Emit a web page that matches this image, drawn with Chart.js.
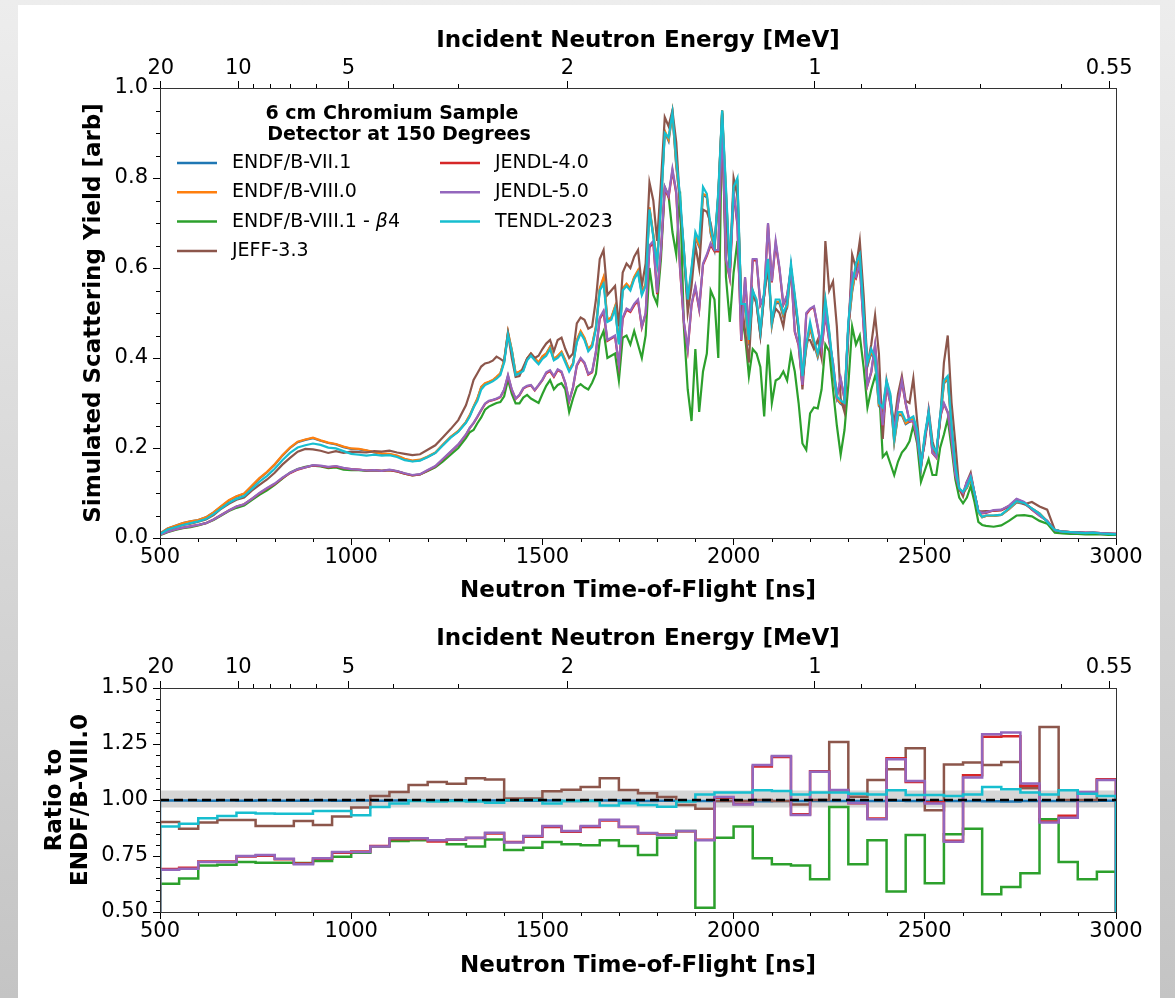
<!DOCTYPE html>
<html>
<head>
<meta charset="utf-8">
<script src="https://cdn.jsdelivr.net/npm/chart.js@4.4.1/dist/chart.umd.min.js"></script>
<style>
  html, body { margin: 0; padding: 0; }
  body { width: 1175px; height: 998px; position: relative; overflow: hidden;
         background: linear-gradient(to bottom, #ededed, #c4c4c4); }
  #panel { position: absolute; left: 18px; top: 5px; width: 1142px; height: 993px; background: #fff; }
  #topChart { position: absolute; left: 0; top: 0; width: 1175px; height: 610px; }
  #ratioChart { position: absolute; left: 0; top: 610px; width: 1175px; height: 388px; }
</style>
</head>
<body>
<div id="panel"></div>
<canvas id="topChart" width="1175" height="610"></canvas>
<canvas id="ratioChart" width="1175" height="388"></canvas>
<script>
const FONT = "'DejaVu Sans', sans-serif";

// top axis: incident neutron energy [MeV]
const energyMajor = [20, 10, 5, 2, 1, 0.55];
const energyMinor = [9, 8, 7, 6, 4, 3, 0.9, 0.8, 0.7, 0.6];

// minor ticks of the other axes
const tofMinor = [600, 700, 800, 900, 1100, 1200, 1300, 1400, 1600, 1700, 1800, 1900,
                  2100, 2200, 2300, 2400, 2600, 2700, 2800, 2900];
const yieldMinor = [0.05, 0.1, 0.15, 0.25, 0.3, 0.35, 0.45, 0.5, 0.55, 0.65, 0.7, 0.75, 0.85, 0.9, 0.95];
const ratioMinor = [0.55, 0.6, 0.65, 0.7, 0.8, 0.85, 0.9, 0.95, 1.05, 1.1, 1.15, 1.2, 1.3, 1.35, 1.4, 1.45];

// flight time for a neutron energy (relativistic), L/c in ns
const L_OVER_C = 102.0;
function tofFromEnergy(e) {
  const g = 1 + e / 939.565;
  return L_OVER_C / Math.sqrt(1 - 1 / (g * g));
}

function range(a, b, step) {
  const out = [];
  for (let v = a; v <= b + 1e-9; v += step) out.push(Math.round(v));
  return out;
}

// time-of-flight grid of the yield curves [ns]
const tof = [...range(500, 1300, 20), ...range(1310, 2660, 10), ...range(2680, 3000, 20)];

// simulated scattering yield [arb]
const yieldB7 = [
  .010,.021,.027,.033,.037,.040,.046,.057,.070,.083, .092,.098,.115,.132,.146,.163,.183,.200,.213,.218,
  .222,.216,.211,.208,.202,.198,.197,.194,.190,.187, .186,.182,.175,.171,.173,.180,.189,.207,.224,.237, .257,
  .272,.291,.309,.335,.343,.346,.350,.357,.365,.394, .456,.417,.365,.369,.374,.398,.409,.399,.389,.403,
  .409,.424,.397,.404,.413,.394,.373,.387,.438,.458, .443,.418,.428,.468,.552,.577,.483,.488,.513,.433,
  .553,.563,.553,.578,.593,.543,.563,.732,.672,.612, .742,.902,.882,.943,.827,.747,.632,.522,.592,.667,
  .647,.762,.757,.677,.642,.762,.943,.767,.592,.772, .787,.512,.512,.428,.542,.522,.452,.542,.612,.472,
  .522,.522,.492,.512,.597,.532,.462,.352,.422,.467, .432,.402,.437,.522,.452,.372,.308,.298,.293,.467,
  .547,.597,.617,.492,.382,.412,.392,.293,.283,.343, .313,.213,.273,.273,.253,.258,.263,.233,.156,.223,
  .273,.198,.185,.263,.343,.353,.243,.156,.107,.100, .111,.131,.097,.057,.046,.049,
  .049,.051,.064,.079,.076,.065,.054,.037,.018,.014,.013,.012,.011,.011,.010,.009,.008
];
const yieldB80 = [
  .010,.021,.027,.033,.037,.040,.046,.057,.071,.084, .093,.099,.116,.133,.147,.164,.184,.201,.214,.219,
  .223,.217,.212,.209,.203,.199,.198,.195,.191,.188, .187,.183,.176,.172,.174,.181,.190,.208,.225,.238, .258,
  .273,.292,.310,.336,.344,.347,.351,.358,.366,.395, .458,.418,.366,.370,.375,.399,.410,.400,.390,.404,
  .410,.425,.398,.405,.414,.395,.374,.388,.440,.460, .445,.420,.430,.470,.555,.580,.485,.490,.515,.435,
  .555,.565,.555,.580,.595,.545,.565,.735,.675,.615, .745,.905,.885,.945,.830,.750,.635,.525,.595,.670,
  .650,.765,.760,.680,.645,.765,.945,.770,.595,.775, .790,.515,.515,.430,.545,.525,.455,.545,.615,.475,
  .525,.525,.495,.515,.600,.535,.465,.355,.425,.470, .435,.405,.440,.525,.455,.375,.310,.300,.295,.470,
  .550,.600,.620,.495,.385,.415,.395,.295,.285,.345, .315,.215,.275,.275,.255,.260,.265,.235,.157,.225,
  .275,.200,.186,.265,.345,.355,.245,.157,.108,.101, .112,.132,.098,.057,.046,.049,
  .049,.051,.064,.080,.077,.066,.055,.037,.018,.014,.013,.012,.011,.011,.010,.009,.008
];
const yieldB81 = [
  .006,.013,.018,.022,.024,.028,.033,.040,.050,.060, .067,.072,.084,.096,.106,.118,.132,.145,.153,.158,
  .161,.159,.155,.157,.152,.151,.151,.149,.150,.149, .151,.148,.143,.139,.141,.149,.157,.170,.185,.200, .222,
  .235,.240,.255,.268,.285,.292,.296,.300,.302,.315, .352,.320,.299,.299,.312,.318,.310,.305,.300,.320,
  .338,.351,.330,.340,.344,.330,.280,.310,.335,.342, .335,.330,.345,.365,.440,.460,.400,.405,.410,.350,
  .445,.450,.430,.460,.430,.400,.450,.600,.540,.520, .620,.780,.760,.680,.630,.770,.470,.330,.260,.420,
  .280,.370,.410,.550,.530,.400,.950,.580,.480,.590, .660,.500,.450,.360,.420,.410,.380,.270,.430,.300,
  .350,.355,.370,.350,.410,.370,.300,.210,.196,.277, .290,.288,.330,.430,.415,.330,.250,.185,.240,.340,
  .470,.430,.450,.380,.290,.330,.360,.340,.180,.190, .165,.140,.170,.190,.200,.215,.250,.210,.125,.150,
  .175,.140,.140,.200,.230,.265,.200,.130,.090,.077, .090,.115,.080,.036,.029,.027,
  .025,.028,.038,.050,.051,.048,.038,.032,.012,.010,.009,.009,.008,.008,.008,.007,.007
];
const yieldJEFF = [
  .009,.019,.024,.029,.032,.036,.041,.051,.065,.076, .085,.090,.105,.118,.130,.145,.163,.178,.192,.198,
  .197,.194,.189,.193,.189,.192,.191,.190,.193,.192, .194,.190,.187,.184,.186,.196,.206,.224,.242,.262, .295,
  .321,.351,.366,.381,.388,.390,.394,.403,.398,.392, .455,.400,.358,.360,.380,.399,.410,.400,.405,.420,
  .432,.440,.415,.440,.445,.420,.400,.410,.477,.490, .485,.465,.470,.530,.620,.640,.540,.550,.560,.470,
  .590,.610,.600,.625,.640,.560,.610,.790,.750,.660, .790,.935,.915,.950,.880,.740,.640,.500,.560,.650,
  .600,.730,.725,.700,.650,.760,.950,.720,.590,.800, .760,.530,.460,.390,.550,.520,.450,.540,.600,.480,
  .510,.500,.470,.530,.600,.530,.460,.330,.440,.440, .420,.440,.400,.660,.550,.570,.470,.310,.280,.450,
  .630,.600,.660,.540,.385,.430,.495,.410,.220,.350, .305,.255,.320,.360,.305,.300,.355,.260,.170,.210,
  .285,.215,.185,.260,.390,.450,.300,.210,.110,.092, .125,.145,.100,.060,.059,.060,
  .060,.062,.070,.085,.075,.080,.070,.063,.018,.014,.013,.013,.011,.012,.011,.010,.009
];
const yieldJ4 = [
  .007,.014,.019,.023,.026,.029,.033,.041,.051,.061, .070,.075,.087,.099,.110,.120,.133,.144,.152,.157,
  .161,.160,.157,.159,.155,.153,.152,.150,.151,.149, .151,.148,.143,.139,.141,.150,.159,.175,.191,.207, .229,
  .244,.255,.269,.284,.298,.304,.306,.309,.313,.329, .360,.329,.309,.317,.332,.337,.339,.328,.339,.351,
  .366,.371,.358,.373,.368,.344,.304,.334,.383,.398, .388,.363,.368,.413,.487,.502,.438,.443,.448,.383,
  .487,.507,.502,.517,.527,.468,.498,.646,.656,.542, .637,.776,.757,.816,.766,.597,.478,.418,.517,.557,
  .508,.607,.627,.651,.637,.637,.925,.617,.577,.766, .696,.438,.577,.458,.617,.617,.518,.538,.697,.568,
  .655,.597,.518,.538,.597,.458,.428,.339,.497,.508, .513,.468,.418,.497,.438,.388,.314,.353,.309,.468,
  .587,.577,.607,.468,.339,.368,.428,.329,.249,.339, .298,.239,.298,.348,.298,.259,.259,.219,.159,.219,
  .278,.189,.179,.268,.298,.279,.219,.139,.109,.099, .124,.139,.099,.060,.055,.056,
  .061,.062,.071,.086,.079,.063,.050,.038,.017,.014,.013,.012,.012,.012,.011,.010,.009
];
const yieldJ5 = [
  .007,.014,.019,.023,.026,.029,.033,.041,.051,.061, .070,.075,.087,.100,.111,.121,.134,.145,.153,.157,
  .162,.161,.158,.160,.156,.153,.152,.150,.151,.149, .152,.149,.144,.140,.142,.151,.160,.176,.192,.208, .230,
  .245,.256,.270,.285,.299,.305,.307,.310,.314,.330, .362,.330,.310,.318,.333,.338,.340,.329,.340,.352,
  .368,.373,.360,.375,.370,.345,.305,.335,.385,.400, .390,.365,.370,.415,.490,.505,.440,.445,.450,.385,
  .490,.510,.505,.520,.530,.470,.500,.650,.660,.545, .640,.780,.760,.820,.770,.600,.480,.420,.520,.560,
  .510,.610,.630,.655,.640,.640,.930,.620,.580,.770, .700,.440,.580,.460,.620,.620,.520,.540,.700,.570,
  .660,.600,.520,.540,.600,.460,.430,.340,.500,.510, .515,.470,.420,.500,.440,.390,.315,.355,.310,.470,
  .590,.580,.610,.470,.340,.370,.430,.330,.250,.340, .300,.240,.300,.350,.300,.260,.260,.220,.160,.220,
  .280,.190,.180,.270,.300,.280,.220,.140,.110,.100, .125,.140,.100,.060,.056,.057,
  .062,.063,.072,.087,.080,.064,.050,.038,.017,.014,.013,.012,.012,.012,.011,.010,.009
];
const yieldTENDL = [
  .009,.019,.024,.029,.033,.037,.042,.053,.066,.078, .087,.093,.109,.125,.138,.154,.173,.189,.201,.206,
  .210,.207,.201,.199,.193,.187,.185,.183,.185,.183, .184,.180,.173,.170,.172,.180,.189,.206,.223,.236, .256,
  .270,.290,.305,.330,.340,.344,.348,.354,.362,.390, .452,.415,.362,.366,.371,.395,.405,.395,.386,.398,
  .405,.420,.395,.400,.410,.390,.370,.385,.435,.455, .440,.415,.425,.465,.550,.565,.480,.485,.510,.430,
  .550,.560,.550,.575,.590,.540,.560,.730,.670,.610, .740,.900,.890,.945,.840,.760,.640,.530,.600,.680,
  .660,.780,.765,.690,.650,.770,.950,.780,.600,.780, .800,.520,.520,.440,.550,.530,.460,.550,.620,.480,
  .530,.530,.500,.520,.610,.540,.470,.360,.430,.480, .440,.410,.450,.530,.460,.380,.315,.305,.300,.480,
  .560,.610,.630,.500,.390,.420,.400,.300,.290,.350, .320,.220,.280,.280,.260,.265,.270,.240,.160,.230,
  .280,.205,.190,.270,.350,.360,.250,.160,.110,.103, .114,.135,.100,.059,.047,.050,
  .050,.052,.066,.082,.078,.066,.054,.036,.018,.014,.013,.012,.011,.012,.010,.009,.008
];

// ratio to ENDF/B-VIII.0 in 50 ns bins (the reference itself is not drawn)
const binEdges = range(500, 3000, 50);
const ratioB7 = [
  0.998,0.998,0.997,0.998,0.997,0.998,0.997,0.997,0.998,0.997, 0.998,0.997,0.998,0.997,0.997,0.998,0.997,0.998,0.998,0.997,
  0.998,0.996,0.997,0.998,0.997,0.996,0.997,0.995,0.996,0.995, 0.996,0.994,0.995,0.996,0.995,0.996,0.995,0.996,0.997,0.995,
  0.996,0.995,0.996,0.994,0.993,0.995,0.996,0.995,0.996,0.997
];
const ratioB81 = [
  0.626,0.649,0.708,0.711,0.723,0.720,0.720,0.719,0.728,0.747, 0.765,0.792,0.817,0.820,0.820,0.802,0.792,0.824,0.777,0.787,
  0.812,0.802,0.798,0.820,0.795,0.754,0.832,0.862,0.519,0.832, 0.882,0.740,0.713,0.708,0.646,0.969,0.713,0.820,0.591,0.844,
  0.628,0.847,0.872,0.579,0.612,0.673,0.914,0.723,0.646,0.680
];
const ratioJEFF = [
  0.902,0.872,0.899,0.911,0.911,0.884,0.884,0.906,0.888,0.926, 0.966,1.018,1.036,1.067,1.080,1.073,1.097,1.092,1.007,1.007,
  1.039,1.046,1.058,1.097,1.045,1.030,1.013,0.978,0.961,0.996, 0.996,1.000,0.995,0.980,1.000,1.259,1.015,1.089,1.137,1.231,
  0.954,1.159,1.167,1.156,1.170,1.052,1.326,1.000,1.000,1.090
];
const ratioJ4 = [
  0.692,0.697,0.726,0.725,0.748,0.751,0.735,0.716,0.738,0.765, 0.770,0.795,0.825,0.826,0.815,0.822,0.830,0.850,0.812,0.836,
  0.880,0.858,0.880,0.908,0.879,0.851,0.846,0.860,0.822,1.010, 0.982,1.150,1.192,0.936,1.128,1.043,0.985,0.917,1.186,1.080,
  0.990,0.818,1.110,1.282,1.285,1.064,0.904,0.930,1.034,1.093
];
const ratioJ5 = [
  0.689,0.693,0.723,0.723,0.750,0.754,0.738,0.713,0.740,0.768, 0.768,0.792,0.829,0.829,0.820,0.824,0.832,0.854,0.810,0.839,
  0.884,0.862,0.884,0.912,0.881,0.853,0.844,0.862,0.820,1.013, 0.980,1.156,1.196,0.933,1.126,1.045,0.987,0.914,1.182,1.085,
  0.984,0.814,1.100,1.293,1.301,1.074,0.899,0.921,1.036,1.089
];
const ratioTENDL = [
  0.882,0.894,0.918,0.929,0.943,0.940,0.939,0.939,0.951,0.951, 0.932,0.969,0.984,0.996,0.993,0.996,0.993,0.988,0.999,1.000,
  0.984,0.996,0.996,0.976,0.985,0.978,0.970,0.993,1.025,1.033, 1.033,1.043,1.040,1.025,1.033,1.033,1.028,1.025,1.043,1.022,
  1.022,1.018,1.025,1.058,1.048,1.033,1.025,1.043,1.028,1.018
];

// band around unity
const bandLow = 0.966, bandHigh = 1.042;

const libs = [
  { label: 'ENDF/B-VII.1',  color: '#1f77b4', yield: yieldB7,    ratio: ratioB7 },
  { label: 'ENDF/B-VIII.0', color: '#ff7f0e', yield: yieldB80,   ratio: null },
  { label: 'ENDF/B-VIII.1 - ', beta: true, color: '#2ca02c', yield: yieldB81, ratio: ratioB81 },
  { label: 'JEFF-3.3',      color: '#8c564b', yield: yieldJEFF,  ratio: ratioJEFF },
  { label: 'JENDL-4.0',     color: '#d62728', yield: yieldJ4,    ratio: ratioJ4 },
  { label: 'JENDL-5.0',     color: '#9467bd', yield: yieldJ5,    ratio: ratioJ5 },
  { label: 'TENDL-2023',    color: '#17becf', yield: yieldTENDL, ratio: ratioTENDL }
];

libs.forEach(l => {
  if (l.yield.length !== tof.length) throw new Error(l.label + ' yield length ' + l.yield.length + ' vs ' + tof.length);
  if (l.ratio && l.ratio.length !== binEdges.length - 1) throw new Error(l.label + ' ratio length ' + l.ratio.length);
});

// frame + minor ticks, placed through the scales
const frameTicks = {
  id: 'frameTicks',
  afterDraw(chart, args, opts) {
    const { ctx, chartArea: a, scales } = chart;
    ctx.save();
    ctx.strokeStyle = '#000';
    ctx.lineWidth = 1;
    ctx.beginPath();
    (opts.minor || []).forEach(m => {
      const s = scales[m.axis];
      m.values.forEach(v => {
        const p = Math.round(s.getPixelForValue(v)) + 0.5;
        if (m.side === 'bottom') { ctx.moveTo(p, a.bottom); ctx.lineTo(p, a.bottom + 4); }
        if (m.side === 'top')    { ctx.moveTo(p, a.top); ctx.lineTo(p, a.top - 4); }
        if (m.side === 'left')   { ctx.moveTo(a.left, p); ctx.lineTo(a.left - 4, p); }
      });
    });
    ctx.stroke();
    ctx.strokeStyle = '#333';
    ctx.strokeRect(a.left + 0.5, a.top + 0.5, a.right - a.left, a.bottom - a.top);
    ctx.restore();
  }
};

const legendBlock = {
  id: 'legendBlock',
  afterDraw(chart) {
    const ctx = chart.ctx;
    ctx.save();
    ctx.fillStyle = '#000';
    ctx.textBaseline = 'middle';
    ctx.textAlign = 'center';
    ctx.font = 'bold 19px ' + FONT;
    ctx.fillText('6 cm Chromium Sample', 392, 114);
    ctx.fillText('Detector at 150 Degrees', 399, 135);
    ctx.textAlign = 'left';
    libs.forEach((lib, i) => {
      const col = i < 4 ? 0 : 1;
      const row = i < 4 ? i : i - 4;
      const x0 = col ? 440 : 177;
      const y = 163 + row * 29.3;
      ctx.strokeStyle = lib.color;
      ctx.lineWidth = 2.5;
      ctx.beginPath();
      ctx.moveTo(x0, y);
      ctx.lineTo(x0 + 40, y);
      ctx.stroke();
      ctx.font = '19px ' + FONT;
      let x = x0 + 55;
      ctx.fillText(lib.label, x, y);
      if (lib.beta) {
        x += ctx.measureText(lib.label).width;
        ctx.font = 'italic 19px ' + FONT;
        ctx.fillText('\u03B2', x, y);
        x += ctx.measureText('\u03B2').width;
        ctx.font = '19px ' + FONT;
        ctx.fillText('4', x, y);
      }
    });
    ctx.restore();
  }
};

const tickFont = { family: FONT, size: 21 };
const titleFont = { family: FONT, size: 23, weight: 'bold' };
const majorGrid = { drawOnChartArea: false, drawTicks: true, tickLength: 7, tickColor: '#000', tickWidth: 1 };

function energyAxis(height, titlePadTop, labelPad) {
  return {
    type: 'linear', position: 'top', min: 500, max: 3000,
    afterFit: s => { s.height = height; },
    afterBuildTicks: s => { s.ticks = energyMajor.map(e => ({ value: tofFromEnergy(e) })); },
    ticks: { autoSkip: false, maxRotation: 0, padding: labelPad, color: '#000', font: tickFont,
             callback: (v, i) => String(energyMajor[i]) },
    grid: majorGrid,
    border: { display: false },
    title: { display: true, text: 'Incident Neutron Energy [MeV]', color: '#000', font: titleFont,
             padding: { top: titlePadTop, bottom: 0 } }
  };
}

function tofAxis(height, titlePadBottom) {
  return {
    type: 'linear', position: 'bottom', min: 500, max: 3000,
    afterFit: s => { s.height = height; },
    ticks: { stepSize: 500, autoSkip: false, maxRotation: 0, padding: 0, color: '#000', font: tickFont,
             callback: v => String(v) },
    grid: majorGrid,
    border: { display: false },
    title: { display: true, text: 'Neutron Time-of-Flight [ns]', color: '#000', font: titleFont,
             padding: { top: 0, bottom: titlePadBottom } }
  };
}

const energyMinorTof = energyMinor.map(tofFromEnergy);

// upper panel: yields
new Chart(document.getElementById('topChart'), {
  type: 'line',
  data: {
    datasets: libs.map((lib, i) => ({
      label: lib.label,
      data: tof.map((t, k) => ({ x: t, y: lib.yield[k] })),
      borderColor: lib.color,
      borderWidth: 2.2,
      pointRadius: 0,
      tension: 0,
      order: libs.length - i
    }))
  },
  options: {
    responsive: false,
    animation: false,
    devicePixelRatio: 1,
    layout: { padding: { left: 0, right: 59, top: 0, bottom: 0 } },
    plugins: {
      legend: { display: false },
      tooltip: { enabled: false },
      frameTicks: { minor: [
        { axis: 'x', side: 'bottom', values: tofMinor },
        { axis: 'x2', side: 'top', values: energyMinorTof },
        { axis: 'y', side: 'left', values: yieldMinor }
      ] }
    },
    scales: {
      x: tofAxis(72, 5),
      x2: energyAxis(88, 27, 0),
      y: {
        position: 'left', min: 0, max: 1,
        afterFit: s => { s.width = 160; },
        ticks: { stepSize: 0.2, padding: 5, color: '#000', font: tickFont, callback: v => v.toFixed(1) },
        grid: majorGrid,
        border: { display: false },
        title: { display: true, text: 'Simulated Scattering Yield [arb]', color: '#000', font: titleFont,
                 padding: { top: 80, bottom: 0 } }
      }
    }
  },
  plugins: [frameTicks, legendBlock]
});

// histogram outline: rises at the first edge, steps at each bin edge, drops at the last
function stepPoints(vals) {
  const last = binEdges[binEdges.length - 1];
  const pts = [{ x: binEdges[0], y: 0 }];
  vals.forEach((v, k) => pts.push({ x: binEdges[k], y: v }));
  pts.push({ x: last, y: vals[vals.length - 1] });
  pts.push({ x: last, y: 0 });
  return pts;
}

// lower panel: ratios
new Chart(document.getElementById('ratioChart'), {
  type: 'line',
  data: {
    datasets: [
      {
        data: [{ x: 500, y: bandHigh }, { x: 3000, y: bandHigh }],
        borderWidth: 0, pointRadius: 0,
        fill: { value: bandLow }, backgroundColor: 'rgba(128,128,128,0.32)',
        order: 100
      },
      ...libs.map((lib, i) => lib.ratio && ({
        label: lib.label,
        data: stepPoints(lib.ratio),
        stepped: 'before',
        borderColor: lib.color,
        borderWidth: 2.5,
        borderJoinStyle: 'miter',
        pointRadius: 0,
        order: libs.length - i
      })).filter(Boolean),
      {
        data: [{ x: 500, y: 1 }, { x: 3000, y: 1 }],
        borderColor: '#000', borderWidth: 2.5, borderDash: [9, 5], pointRadius: 0,
        order: -1
      }
    ]
  },
  options: {
    responsive: false,
    animation: false,
    devicePixelRatio: 1,
    layout: { padding: { left: 0, right: 59, top: 0, bottom: 0 } },
    plugins: {
      legend: { display: false },
      tooltip: { enabled: false },
      frameTicks: { minor: [
        { axis: 'x', side: 'bottom', values: tofMinor },
        { axis: 'x2', side: 'top', values: energyMinorTof },
        { axis: 'y', side: 'left', values: ratioMinor }
      ] }
    },
    scales: {
      x: tofAxis(86, 18),
      x2: energyAxis(78, 15, 1),
      y: {
        position: 'left', min: 0.5, max: 1.5,
        afterFit: s => { s.width = 160; },
        ticks: { stepSize: 0.25, padding: 5, color: '#000', font: tickFont, callback: v => v.toFixed(2) },
        grid: majorGrid,
        border: { display: false },
        title: { display: true, text: ['Ratio to', 'ENDF/B-VIII.0'], color: '#000',
                 font: { family: FONT, size: 23, weight: 'bold', lineHeight: 1.13 },
                 padding: { top: 42, bottom: 0 } }
      }
    }
  },
  plugins: [frameTicks]
});
</script>
</body>
</html>
